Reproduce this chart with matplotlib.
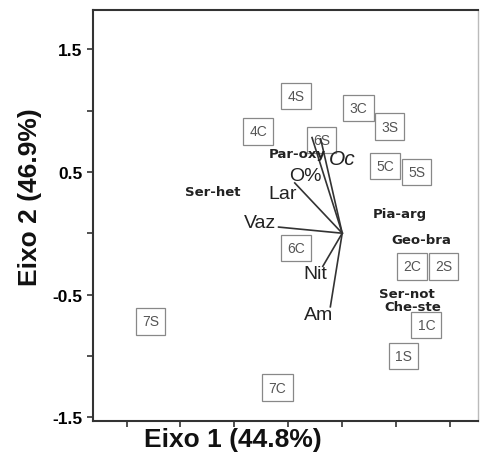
import matplotlib.pyplot as plt

# sample scores (boxed labels)
samples = ['4S', '3C', '3S', '4C', '6S', '5C', '5S', '6C', '2C', '2S', '7S', '1C', '1S', '7C']
sample_x = [-0.43, 0.15, 0.44, -0.78, -0.19, 0.40, 0.69, -0.43, 0.65, 0.94, -1.78, 0.78, 0.57, -0.60]
sample_y = [1.12, 1.02, 0.87, 0.83, 0.76, 0.55, 0.50, -0.12, -0.27, -0.27, -0.72, -0.75, -1.00, -1.26]

# species scores
species = ['Ser-het', 'Par-oxy', 'Pia-arg', 'Geo-bra', 'Ser-not', 'Che-ste']
species_x = [-1.20, -0.42, 0.53, 0.73, 0.60, 0.65]
species_y = [0.34, 0.65, 0.16, -0.05, -0.49, -0.60]

# environmental vectors
vectors = ['Vaz', 'Lar', 'O%', 'Oc', 'Nit', 'Am']
vec_x = [-0.59, -0.44, -0.28, -0.20, -0.18, -0.11]
vec_y = [0.05, 0.41, 0.78, 0.77, -0.27, -0.60]
vec_label_x = [-0.76, -0.55, -0.34, 0.0, -0.25, -0.22]
vec_label_y = [0.09, 0.32, 0.47, 0.61, -0.33, -0.66]

fig = plt.figure(figsize=(4.8, 4.6), dpi=100)
ax = fig.add_axes([0.194, 0.083, 0.802, 0.893])

ax.set_xlim(-2.31, 1.26)
ax.set_ylim(-1.53, 1.82)

# vectors from origin
for x, y in zip(vec_x, vec_y):
    ax.plot([0, x], [0, y], color='#333333', linewidth=1.2, zorder=4)
for name, x, y in zip(vectors, vec_label_x, vec_label_y):
    style = 'italic' if name == 'Oc' else 'normal'
    size = 15 if name == 'Oc' else 14
    ax.text(x, y, name, fontsize=size, family='Liberation Sans', style=style,
            color='#222222', ha='center', va='center', zorder=5)

# boxed sample labels
for name, x, y in zip(samples, sample_x, sample_y):
    ax.text(x, y, name, fontsize=10, family='Liberation Sans', color='#555555',
            ha='center', va='center', zorder=3,
            bbox=dict(boxstyle='square,pad=0.45', facecolor='white',
                      edgecolor='#888888', linewidth=0.9))

# species labels
for name, x, y in zip(species, species_x, species_y):
    ax.text(x, y, name, fontsize=9.5, family='DejaVu Sans', weight='bold',
            color='#222222', ha='center', va='center', zorder=5)

# ticks
ax.set_xticks([-2.0, -1.5, -1.0, -0.5, 0.0, 0.5, 1.0])
ax.set_xticklabels([])
ax.set_yticks([-1.5, -1.0, -0.5, 0.0, 0.5, 1.0, 1.5])
ax.set_yticklabels(['-1.5', '', '-0.5', '', '0.5', '', '1.5'])
ax.tick_params(direction='out', length=4, width=1.2, color='#333333')
for lab in ax.get_yticklabels():
    lab.set_fontsize(12.5)
    lab.set_fontweight('bold')
    lab.set_family('Liberation Sans')

for side in ['left', 'bottom', 'top']:
    ax.spines[side].set_color('#333333')
    ax.spines[side].set_linewidth(1.5)
ax.spines['right'].set_color('#bbbbbb')
ax.spines['right'].set_linewidth(1.0)

fig.text(233 / 480, 1 - 440 / 460, 'Eixo 1 (44.8%)', fontsize=19, weight='bold',
         family='Liberation Sans', ha='center', va='center', color='#111111')
fig.text(30 / 480, 1 - 197 / 460, 'Eixo 2 (46.9%)', fontsize=19, weight='bold',
         family='Liberation Sans', ha='center', va='center', rotation=90, color='#111111')

fig.savefig('out.png', dpi=100)
